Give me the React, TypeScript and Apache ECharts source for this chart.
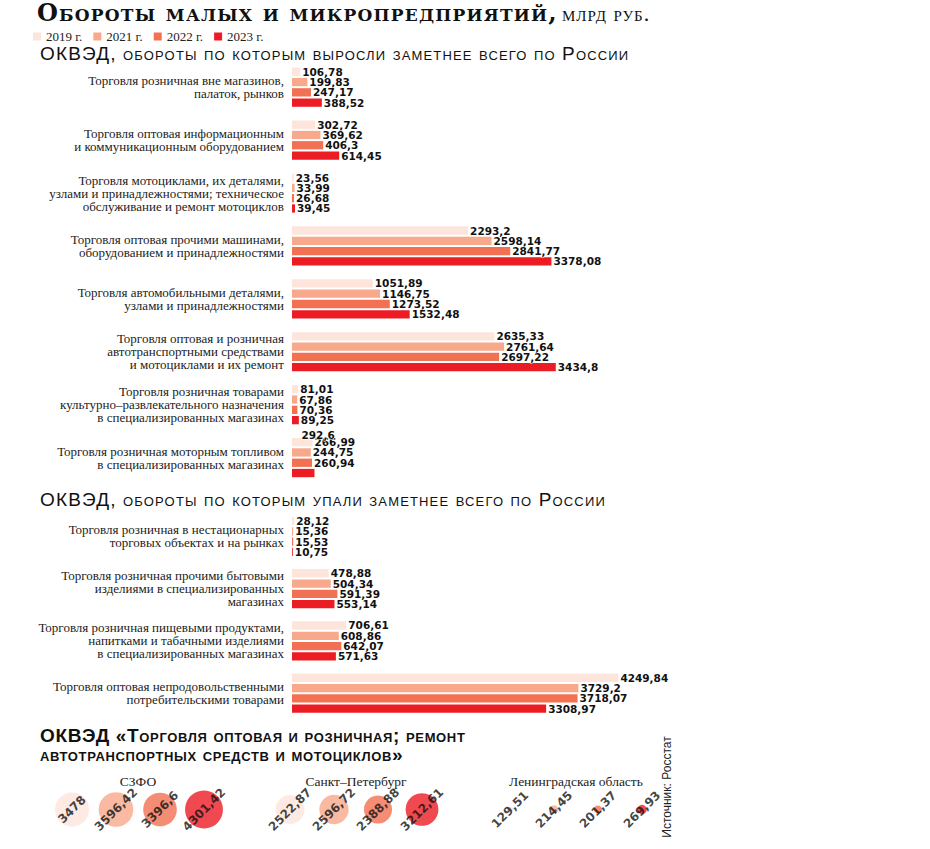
import React, { useEffect, useRef } from "react";
import * as echarts from "echarts";

const years = ["2019 г.", "2021 г.", "2022 г.", "2023 г."];
const colors = ["#fde5dc", "#f9a98b", "#f37153", "#ec1c24"];

const topCategories = [
  "Торговля розничная вне магазинов,\nпалаток, рынков",
  "Торговля оптовая информационным\nи коммуникационным оборудованием",
  "Торговля мотоциклами, их деталями,\nузлами и принадлежностями; техническое\nобслуживание и ремонт мотоциклов",
  "Торговля оптовая прочими машинами,\nоборудованием и принадлежностями",
  "Торговля автомобильными деталями,\nузлами и принадлежностями",
  "Торговля оптовая и розничная\nавтотранспортными средствами\nи мотоциклами и их ремонт",
  "Торговля розничная товарами\nкультурно–развлекательного назначения\nв специализированных магазинах",
  "Торговля розничная моторным топливом\nв специализированных магазинах",
];
const top2019 = [106.78, 302.72, 23.56, 2293.2, 1051.89, 2635.33, 81.01, 266.99];
const top2021 = [199.83, 369.62, 33.99, 2598.14, 1146.75, 2761.64, 67.86, 244.75];
const top2022 = [247.17, 406.3, 26.68, 2841.77, 1273.52, 2697.22, 70.36, 260.94];
const top2023 = [388.52, 614.45, 39.45, 3378.08, 1532.48, 3434.8, 89.25, 292.6];

const bottomCategories = [
  "Торговля розничная в нестационарных\nторговых объектах и на рынках",
  "Торговля розничная прочими бытовыми\nизделиями в специализированных\nмагазинах",
  "Торговля розничная пищевыми продуктами,\nнапитками и табачными изделиями\nв специализированных магазинах",
  "Торговля оптовая непродовольственными\nпотребительскими товарами",
];
const bottom2019 = [28.12, 478.88, 706.61, 4249.84];
const bottom2021 = [15.36, 504.34, 608.86, 3729.2];
const bottom2022 = [15.53, 591.39, 642.07, 3718.07];
const bottom2023 = [10.75, 553.14, 571.63, 3308.97];

const regions = ["СЗФО", "Санкт–Петербург", "Ленинградская область"];
const regionSZFO = [3478, 3596.42, 3396.6, 4301.42];
const regionSPb = [2522.87, 2596.72, 2388.88, 3212.61];
const regionLO = [129.51, 214.45, 201.37, 269.93];

const fmt = (v: number) => String(v).replace(".", ",");

const serif = "'Liberation Serif', 'DejaVu Serif', serif";
const bold = "'DejaVu Sans', Verdana, sans-serif";
// font families with small-caps variant and letter spacing
const sc = (family: string, spacing: number) =>
  `${family};font-variant:small-caps;letter-spacing:${spacing}px`;

export default function App() {
  const ref = useRef<HTMLDivElement>(null);
  useEffect(() => {
    document.body.style.margin = "0";
    const chart = echarts.init(ref.current!, undefined, { renderer: "svg" });

    const barLabel = {
      show: true,
      position: "right",
      distance: 2,
      color: "#111",
      fontFamily: bold,
      fontWeight: "bold",
      fontSize: 10.5,
      textBorderColor: "#fff",
      textBorderWidth: 1,
      formatter: (p: any) => fmt(p.value),
    };

    const topSeries = [top2019, top2021, top2022, top2023];
    const bottomSeries = [bottom2019, bottom2021, bottom2022, bottom2023];

    const series: any[] = [];
    topSeries.forEach((arr, k) => {
      series.push({
        type: "bar",
        name: years[k],
        xAxisIndex: 0,
        yAxisIndex: 0,
        barWidth: 8.3,
        barGap: "24%",
        itemStyle: { color: colors[k] },
        label: barLabel,
        data: arr.map((v, i) =>
          k === 3 && i === 7 ? { value: v, label: { offset: [-15, -38] } } : v
        ),
      });
    });
    bottomSeries.forEach((arr, k) => {
      series.push({
        type: "bar",
        name: years[k],
        xAxisIndex: 1,
        yAxisIndex: 1,
        barWidth: 8.3,
        barGap: "24%",
        itemStyle: { color: colors[k] },
        label: barLabel,
        data: arr,
      });
    });
    [regionSZFO, regionSPb, regionLO].forEach((arr, r) => {
      series.push({
        type: "scatter",
        name: regions[r],
        xAxisIndex: 2 + r,
        yAxisIndex: 2 + r,
        symbol: "circle",
        symbolSize: (val: any) => 0.577 * Math.sqrt(val[2]),
        label: {
          show: true,
          position: "inside",
          rotate: 45,
          color: "#111",
          fontFamily: bold,
          fontWeight: "bold",
          fontSize: 12,
          formatter: (p: any) => fmt(p.value[2]),
        },
        data: arr.map((v, i) => ({
          value: [i, 0, v],
          itemStyle: { color: colors[i] },
        })),
      });
    });

    const barX = (g: number) => ({
      type: "value",
      gridIndex: g,
      min: 0,
      max: 5000,
      show: false,
    });
    const catY = (g: number, data: string[]) => ({
      type: "category",
      gridIndex: g,
      inverse: true,
      data,
      axisLine: { show: false },
      axisTick: { show: false },
      axisLabel: {
        interval: 0,
        margin: 8,
        fontFamily: serif,
        fontSize: 13,
        lineHeight: 13,
        color: "#222",
        align: "right",
      },
    });

    const circleGridLefts = [50, 268, 488];
    const headFamily = "'Liberation Sans', Arial, sans-serif";

    const option: any = {
      animation: false,
      legend: {
        left: 28,
        top: 25,
        itemWidth: 8,
        itemHeight: 8,
        itemGap: 11,
        icon: "rect",
        data: years,
        textStyle: { fontFamily: serif, fontSize: 13, color: "#222" },
        selectedMode: false,
      },
      grid: [
        { left: 292, top: 60.75, width: 384, height: 423.3 },
        { left: 292, top: 510.3, width: 384, height: 209 },
        ...circleGridLefts.map((l) => ({ left: l, top: 794.5, width: 176, height: 30 })),
      ],
      xAxis: [
        barX(0),
        barX(1),
        ...[2, 3, 4].map((g) => ({ type: "category", gridIndex: g, data: years, show: false })),
      ],
      yAxis: [
        catY(0, topCategories),
        catY(1, bottomCategories),
        ...[2, 3, 4].map((g) => ({ type: "category", gridIndex: g, data: [""], show: false })),
      ],
      series,
      graphic: [
        {
          type: "text",
          left: 37,
          top: 6,
          style: {
            text: "Обороты малых и микропредприятий,",
            fontFamily: sc("'DejaVu Serif', serif", 1.2),
            fontWeight: 900,
            fontSize: 24,
            fill: "#111",
          },
        },
        {
          type: "text",
          left: 562,
          top: 7,
          style: {
            text: "млрд руб.",
            fontFamily: sc(serif, 1),
            fontSize: 22,
            fill: "#111",
          },
        },
        {
          type: "text",
          left: 40,
          top: 46.5,
          style: {
            text: "ОКВЭД, обороты по которым выросли заметнее всего по России",
            fontFamily: sc(headFamily, 1.15),
            fontSize: 19,
            fill: "#111",
          },
        },
        {
          type: "text",
          left: 40,
          top: 493,
          style: {
            text: "ОКВЭД, обороты по которым упали заметнее всего по России",
            fontFamily: sc(headFamily, 1.15),
            fontSize: 19,
            fill: "#111",
          },
        },
        {
          type: "text",
          left: 40,
          top: 726,
          style: {
            text: "ОКВЭД «Торговля оптовая и розничная; ремонт\nавтотранспортных средств и мотоциклов»",
            fontFamily: sc(headFamily, 0.65),
            fontWeight: "bold",
            fontSize: 19,
            lineHeight: 19,
            fill: "#111",
          },
        },
        ...regions.map((name, r) => ({
          type: "text",
          x: circleGridLefts[r] + 88,
          y: 781,
          style: {
            text: name,
            fontFamily: serif,
            fontSize: 13.5,
            fill: "#222",
            align: "center",
            verticalAlign: "middle",
          },
        })),
        {
          type: "text",
          x: 667,
          y: 787,
          rotation: Math.PI / 2,
          style: {
            text: "Источник: Росстат",
            fontFamily: "'Liberation Sans', Arial, sans-serif",
            fontSize: 12,
            fill: "#222",
            align: "center",
            verticalAlign: "middle",
          },
        },
      ],
    };
    chart.setOption(option);
    return () => chart.dispose();
  }, []);
  return <div ref={ref} style={{ width: 930, height: 849 }} />;
}
